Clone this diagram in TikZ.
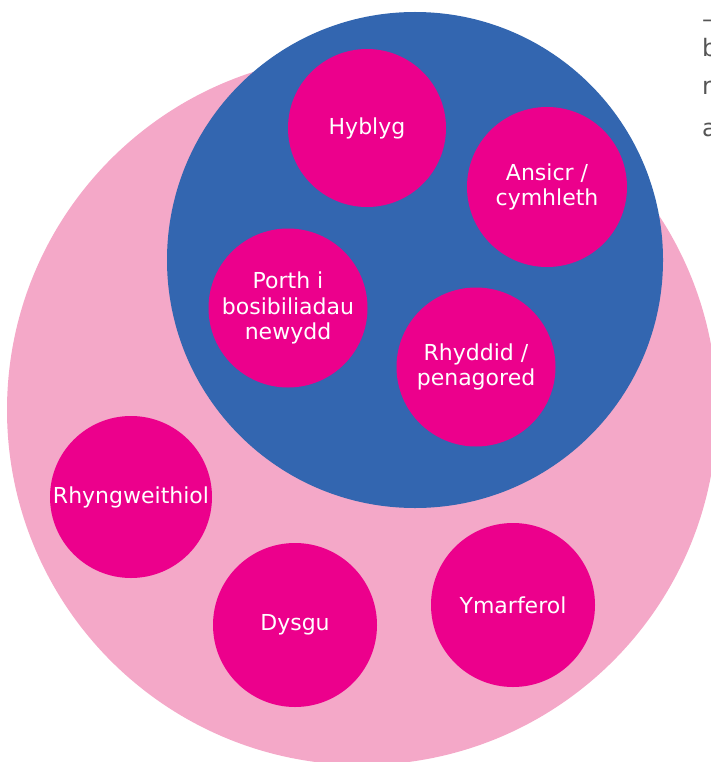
\documentclass[tikz,border=0pt]{standalone}
\usepackage{fontspec}
\setmainfont{DejaVu Sans}
\definecolor{palepink}{RGB}{244,168,200}
\definecolor{deepblue}{RGB}{51,102,176}
\definecolor{hotpink}{RGB}{236,0,140}
\definecolor{bodygrey}{RGB}{85,85,85}

\begin{document}
\begin{tikzpicture}[x=1pt,y=-1pt,
    disc/.style={circle,inner sep=0pt,fill=#1},
    idea/.style={circle,inner sep=0pt,minimum size=#1,fill=hotpink,
      text=white,align=center,font=\fontsize{22}{25.7}\selectfont}]
  \useasboundingbox (0,0) rectangle (710,762);

  \begin{scope}
    \node[disc=palepink,minimum size=710pt] (outer) at (362,410) {};
    \node[disc=deepblue,minimum size=496pt] (inner) at (415,260) {};
  \end{scope}

  \begin{scope}
    \node[idea=158pt] (hyblyg)  at (367,128) {Hyblyg};
    \node[idea=160pt] (ansicr)  at (547,187) {Ansicr /\\cymhleth};
    \node[idea=159pt] (porth)   at (288,308) {Porth i\\bosibiliadau\\newydd};
    \node[idea=159pt] (rhyddid) at (476,367) {Rhyddid /\\penagored};
  \end{scope}

  \begin{scope}
    \node[idea=162pt] (rhyngweithiol) at (131,497) {Rhyngweithiol};
    \node[idea=164pt] (dysgu)         at (295,625) {Dysgu};
    \node[idea=164pt] (ymarferol)     at (513,605) {Ymarferol};
  \end{scope}

  \foreach \letter/\base [count=\i] in {–/28,b/57,r/95,a/137}
    \node[anchor=base west,inner sep=0pt,text=bodygrey,
      font=\fontsize{24}{30}\selectfont] (margin\i) at (702,\base) {\letter};
\end{tikzpicture}
\end{document}
